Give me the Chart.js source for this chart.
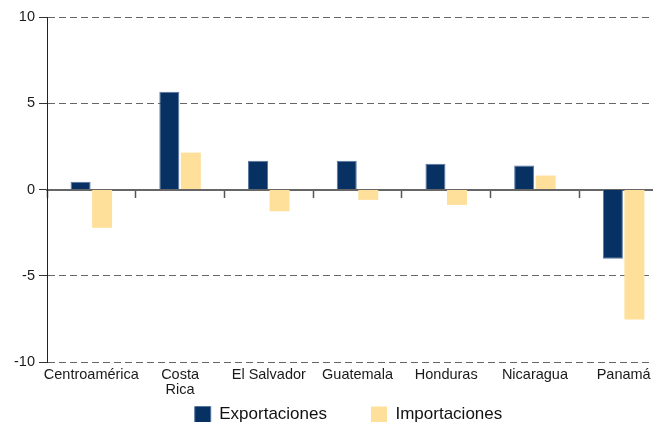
<!DOCTYPE html>
<html lang="es">
<head>
<meta charset="utf-8">
<title>Exportaciones e importaciones</title>
<script src="https://cdn.jsdelivr.net/npm/chart.js@4.4.1/dist/chart.umd.min.js"></script>
<style>
    html, body { margin: 0; padding: 0; background: #fff; overflow: hidden; }
    #wrap { width: 697px; height: 430px; }
</style>
</head>
<body>
<div id="wrap"><canvas id="chart" width="697" height="430"></canvas></div>
<script>
// datos del gráfico
const paises = ['Centroamérica', ['Costa', 'Rica'], 'El Salvador', 'Guatemala', 'Honduras', 'Nicaragua', 'Panamá'];
const exportaciones = [0.45, 5.66, 1.66, 1.66, 1.49, 1.39, -4.02];
const importaciones = [-2.22, 2.14, -1.26, -0.6, -0.89, 0.81, -7.54];
const ticksY = [-10, -5, 0, 5, 10];

document.addEventListener('DOMContentLoaded', function() {
    Chart.defaults.font.family = '"Liberation Sans", Arial, sans-serif';
    Chart.defaults.color = '#1a1a1a';

    const ctx = document.getElementById('chart').getContext('2d');
    new Chart(ctx, {
        type: 'bar',
        data: {
            labels: paises,
            datasets: [{
                label: 'Exportaciones',
                data: exportaciones,
                backgroundColor: '#063162',
                borderColor: '#5876a0',
                borderWidth: 1,
                categoryPercentage: 0.485,
                barPercentage: 0.93
            }, {
                label: 'Importaciones',
                data: importaciones,
                backgroundColor: '#ffe09b',
                borderWidth: 0,
                categoryPercentage: 0.485,
                barPercentage: 0.93
            }]
        },
        options: {
            responsive: false,
            animation: false,
            devicePixelRatio: 1,
            layout: { padding: { top: 17, left: 0, right: 0, bottom: 8 } },
            scales: {
                x: {
                    display: false,
                    offset: true
                },
                // nombres de países bajo la línea de -10
                etiquetas: {
                    axis: 'x',
                    type: 'category',
                    position: { y: -10 },
                    offset: true,
                    grid: { display: false, drawTicks: false },
                    border: { display: false },
                    ticks: { font: { size: 14.5, lineHeight: 1.05 }, padding: 5.5, maxRotation: 0, autoSkip: false }
                },
                // línea del cero con marcas entre categorías
                cero: {
                    axis: 'x',
                    type: 'category',
                    position: { y: 0 },
                    offset: true,
                    grid: { drawOnChartArea: false, drawTicks: true, tickLength: 7, tickColor: '#555', tickWidth: 1.5, offset: true },
                    border: { display: true, color: '#666', width: 2 },
                    ticks: { display: false }
                },
                y: {
                    min: -10,
                    max: 10,
                    afterBuildTicks: scale => { scale.ticks = ticksY.map(v => ({ value: v })); },
                    grid: {
                        color: c => c.tick && c.tick.value === 0 ? 'rgba(0,0,0,0)' : '#666',
                        tickColor: '#333',
                        tickLength: 8
                    },
                    border: { display: true, color: '#222', width: 1, dash: [7, 4] },
                    ticks: { font: { size: 14.5 }, padding: 4 },
                    afterFit: scale => { scale.width = 47; }
                },
                margen: {
                    axis: 'y',
                    type: 'linear',
                    position: 'right',
                    grid: { display: false },
                    border: { display: false },
                    ticks: { display: false },
                    afterFit: scale => { scale.width = 29; }
                }
            },
            plugins: {
                legend: {
                    position: 'bottom',
                    maxHeight: 60,
                    labels: {
                        boxWidth: 16,
                        boxHeight: 16,
                        padding: 44,
                        color: '#111',
                        font: { size: 17 }
                    }
                },
                tooltip: { enabled: false }
            }
        }
    });
});
</script>
</body>
</html>
